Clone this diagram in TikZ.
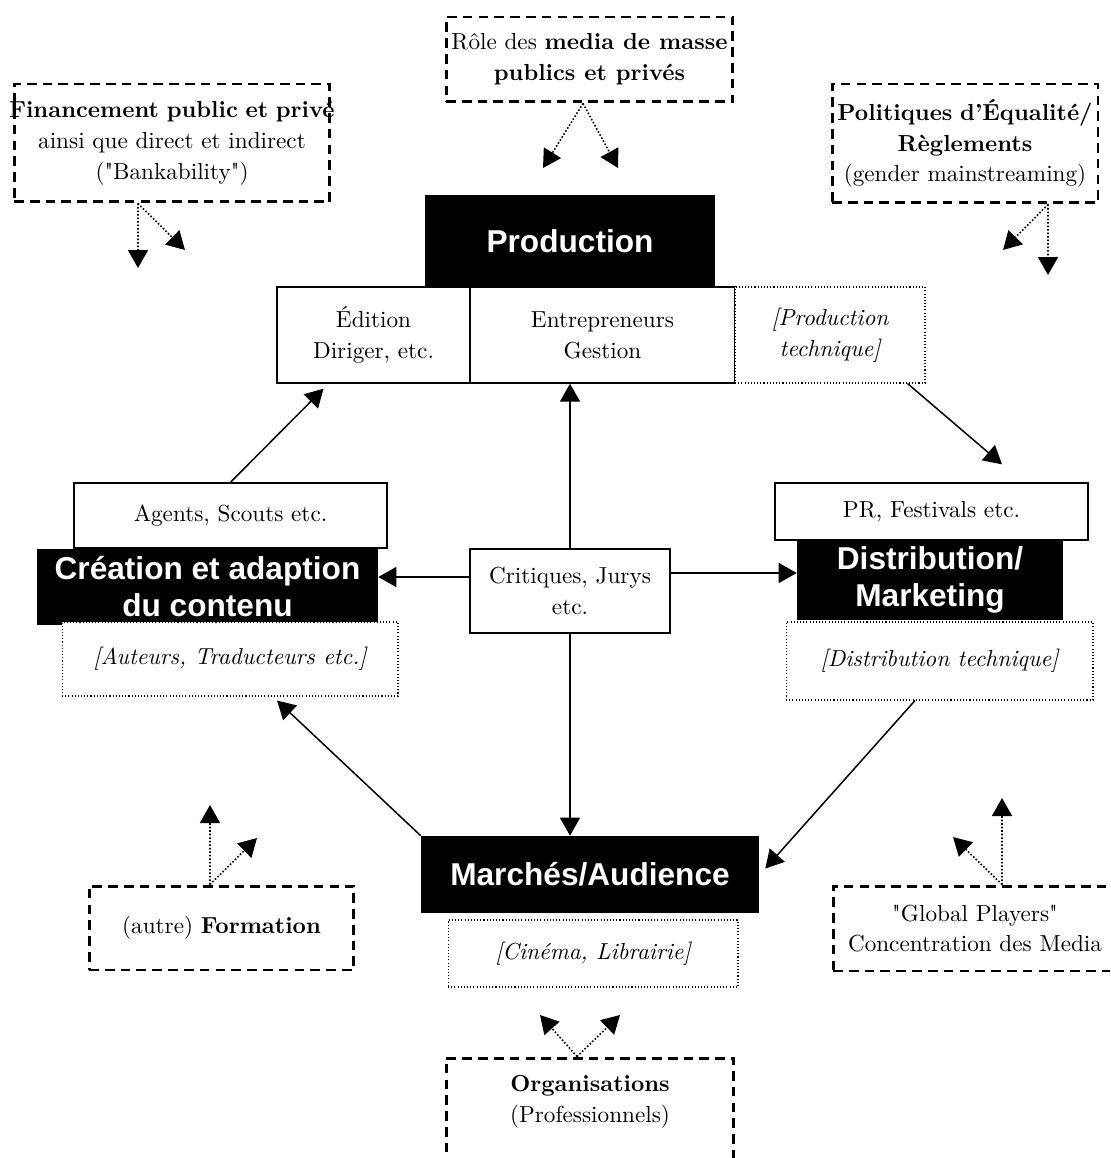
\documentclass[tikz,border=0pt]{standalone}
\usepackage{fontspec}
\setmainfont{lmroman10-regular.otf}[BoldFont=lmroman10-bold.otf, ItalicFont=lmroman10-italic.otf, BoldItalicFont=lmroman10-bolditalic.otf, Ligatures=TeXOff]
\newfontfamily\headfont{Liberation Sans}
\usetikzlibrary{arrows.meta}

\begin{document}
\begin{tikzpicture}[x=0.02cm, y=-0.02cm,
    every node/.style={align=center, inner sep=0pt, font=\fontsize{13.2}{17.5}\selectfont},
    ext/.style={draw, line width=1.7pt, dash pattern=on 5.5pt off 3.5pt},
    stage/.style={fill=black, text=white, font=\headfont\fontsize{18}{21}\selectfont\bfseries},
    actor/.style={draw, line width=0.8pt, fill=white},
    aside/.style={draw, line width=0.6pt, dash pattern=on 0.6pt off 1.2pt, fill=white, font=\fontsize{13.2}{17.5}\selectfont\itshape},
    flow/.style={line width=0.85pt, -{Triangle[length=0.36cm, width=0.4cm]}},
    infl/.style={line width=0.9pt, dash pattern=on 0.9pt off 1.1pt, -{Triangle[length=0.36cm, width=0.4cm]}}]
  \useasboundingbox (0,0) rectangle (1110,1158);
  \clip (0,0) rectangle (1110,1158);

  % outside influences
  \node (fin) at (172,143) [ext, text width=6.32cm, minimum height=2.36cm] {\makebox[\linewidth][c]{\textbf{Financement public et privé}}\\ainsi que direct et indirect\\("Bankability")};
  \node (role) at (589.5,59.5) [ext, minimum width=5.74cm, minimum height=1.7cm] {Rôle des \textbf{media de masse}\\\textbf{publics et privés}};
  \node (pol) at (965,143.5) [ext, text width=5.32cm, minimum height=2.38cm] {\textbf{Politiques d’Équalité/}\\\textbf{Règlements}\\\makebox[\linewidth][c]{(gender mainstreaming)}};
  \node (form) at (221.5,928) [ext, minimum width=5.3cm, minimum height=1.68cm] {(autre) \textbf{Formation}};
  \node (glob) at (975,928.5) [ext, minimum width=5.68cm, minimum height=1.7cm] {"Global Players"\\Concentration des Media};
  \node (org) at (590,1123) [ext, minimum width=5.76cm, minimum height=2.6cm] {};
  \node (orgtxt) at (590,1102) {\textbf{Organisations}\\(Professionnels)};

  % production
  \node (edit) at (373.5,335) [actor, minimum width=3.86cm, minimum height=1.92cm] {Édition\\Diriger, etc.};
  \node (entr) at (602.5,335) [actor, minimum width=5.3cm, minimum height=1.92cm] {Entrepreneurs\\Gestion};
  \node (ptech) at (830,335) [aside, minimum width=3.8cm, minimum height=1.92cm] {[Production\\technique]};
  \node (prod) at (570,241) [stage, minimum width=5.8cm, minimum height=1.84cm] {Production};

  % creation
  \node (agents) at (230.5,515.5) [actor, minimum width=6.26cm, minimum height=1.3cm] {Agents, Scouts etc.};
  \node (crea) at (207.5,587) [stage, minimum width=6.82cm, minimum height=1.52cm] {Création et adaption\\du contenu};
  \node (auteurs) at (230,659) [aside, minimum width=6.72cm, minimum height=1.48cm] {[Auteurs, Traducteurs etc.]};

  \node (crit) at (570,591) [actor, minimum width=4cm, minimum height=1.68cm] {Critiques, Jurys\\etc.};

  % distribution
  \node (pr) at (931.5,511.5) [actor, minimum width=6.26cm, minimum height=1.14cm] {PR, Festivals etc.};
  \node (dist) at (930,580) [stage, minimum width=5.32cm, minimum height=1.6cm] {Distribution/\\Marketing};
  \node (disttech) at (939.5,661) [aside, minimum width=6.14cm, minimum height=1.56cm] {[Distribution technique]};

  % markets
  \node (mark) at (590,874.5) [stage, minimum width=6.76cm, minimum height=1.54cm] {Marchés/Audience};
  \node (cine) at (593,953.5) [aside, minimum width=5.8cm, minimum height=1.34cm] {[Cinéma, Librairie]};

  % cycle
  \draw[flow] (agents.north) -- ([xshift=-1cm, yshift=-0.1cm]edit.south);
  \draw[flow] (crit.north) -- (crit.north |- entr.south);
  \draw[flow] ([xshift=-0.36cm]ptech.south east) -- ([xshift=1.41cm, yshift=0.36cm]pr.north);
  \draw[flow] ([yshift=0.28cm]crit.west) -- ([yshift=0.28cm]crit.west -| crea.east);
  \draw[flow] ([yshift=0.36cm]crit.east) -- ([yshift=0.36cm]crit.east -| dist.west);
  \draw[flow] (crit.south) -- (crit.south |- mark.north);
  \draw[flow] ([xshift=-0.49cm]disttech.south) -- ([xshift=0.12cm, yshift=0.12cm]mark.east);
  \draw[flow] (mark.north west) -- ([xshift=0.94cm, yshift=-0.08cm]auteurs.south);

  % influences
  \coordinate (finA) at (138,268);
  \coordinate (finB) at (185,250);
  \coordinate (roleA) at (543,168);
  \coordinate (roleB) at (618,168);
  \coordinate (polA) at (1048,275);
  \coordinate (polB) at (1003,250);
  \coordinate (formA) at (210,805);
  \coordinate (formB) at (257,838);
  \coordinate (globA) at (1002,798);
  \coordinate (globB) at (953,837);
  \coordinate (orgA) at (540,1015);
  \coordinate (orgB) at (620,1015);
  \draw[infl] ([xshift=-0.68cm]fin.south) -- (finA);
  \draw[infl] ([xshift=-0.68cm]fin.south) -- (finB);
  \draw[infl] ([xshift=-0.13cm]role.south) -- (roleA);
  \draw[infl] ([xshift=-0.13cm]role.south) -- (roleB);
  \draw[infl] ([xshift=1.66cm]pol.south) -- (polA);
  \draw[infl] ([xshift=1.66cm]pol.south) -- (polB);
  \draw[infl] ([xshift=-0.23cm]form.north) -- (formA);
  \draw[infl] ([xshift=-0.23cm]form.north) -- (formB);
  \draw[infl] ([xshift=0.54cm]glob.north) -- (globA);
  \draw[infl] ([xshift=0.54cm]glob.north) -- (globB);
  \draw[infl] ([xshift=-0.26cm]org.north) -- (orgA);
  \draw[infl] ([xshift=-0.26cm]org.north) -- (orgB);
\end{tikzpicture}
\end{document}
